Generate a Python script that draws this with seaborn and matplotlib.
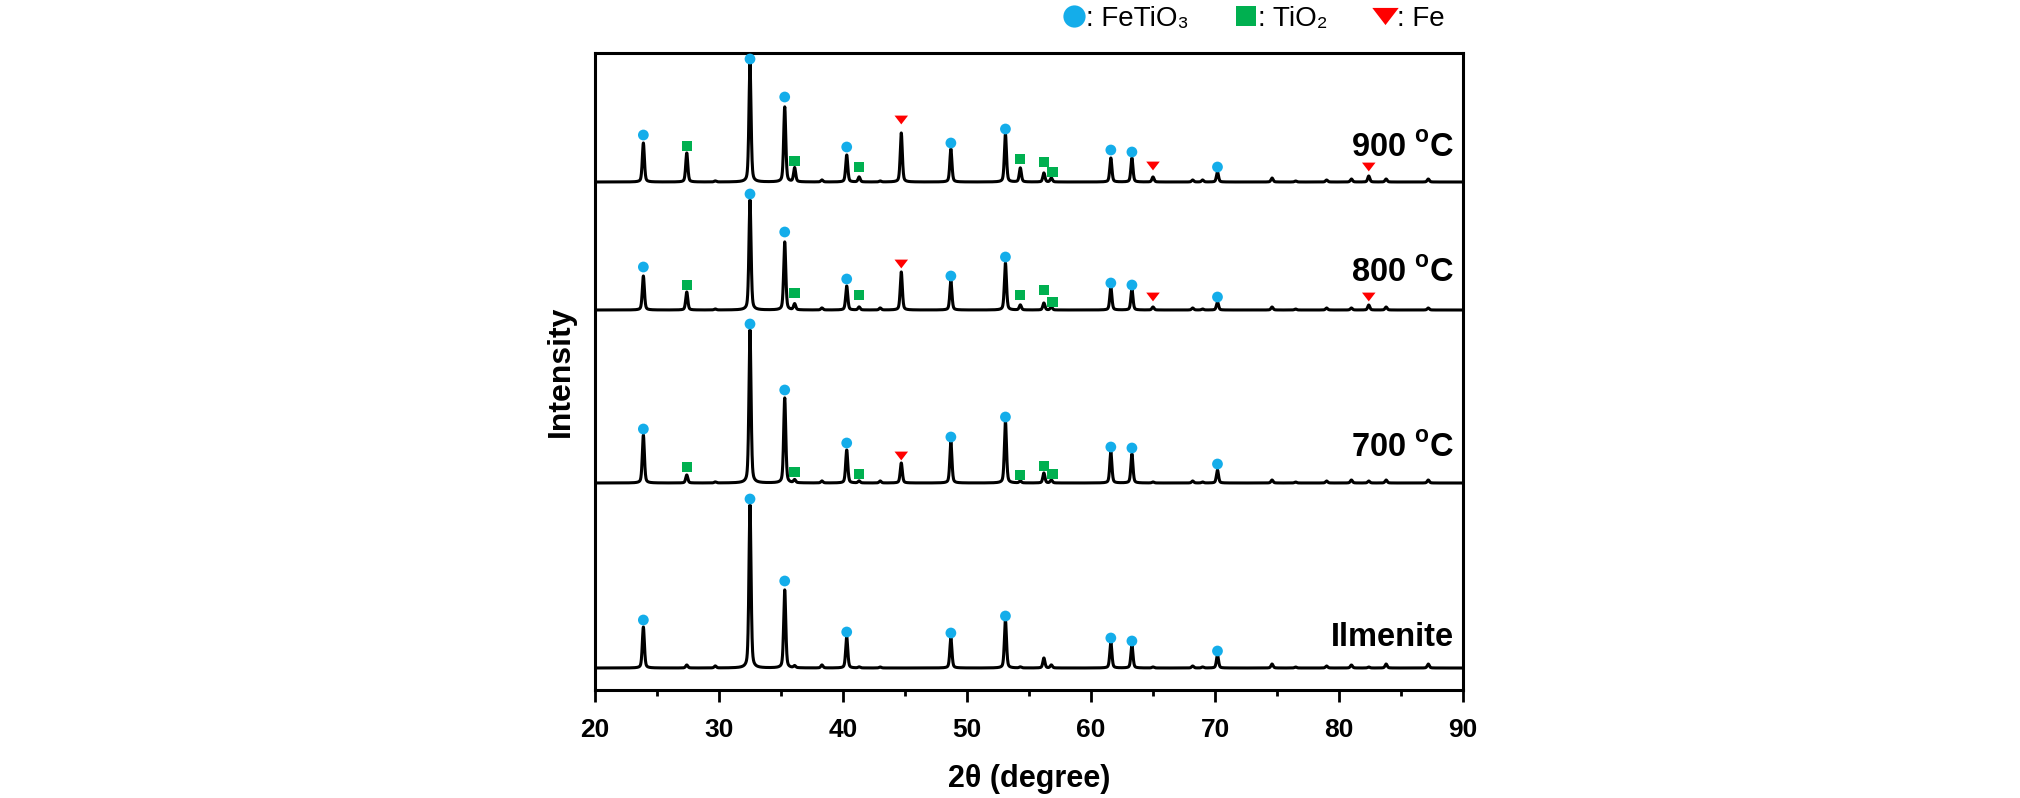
import numpy as np
import pandas as pd
import seaborn as sns
import matplotlib
matplotlib.use("Agg")
import matplotlib.pyplot as plt
from matplotlib.lines import Line2D
from matplotlib.path import Path

# ---------------- data (arbitrary intensity units) ----------------
samples = ["Ilmenite", "700 oC", "800 oC", "900 oC"]
sample_labels = ["Ilmenite", r"700 $^{\mathbf{o}}$C", r"800 $^{\mathbf{o}}$C", r"900 $^{\mathbf{o}}$C"]
offsets = [22, 207, 380, 508]
label_y = [44, 233, 408, 533]

peak_pos = [23.9, 27.4, 29.7, 32.5, 35.3, 36.1, 38.3, 40.3, 41.3, 43.0, 44.7, 48.7, 53.1,
            54.3, 56.2, 56.8, 61.6, 63.3, 65.0, 68.2, 69.0, 70.2, 74.6, 76.5, 79.0, 81.0,
            82.4, 83.8, 87.2]
h_ilmenite = [41, 3, 2, 163, 78, 2, 3, 31, 1, 1, 0, 30, 48,
              1, 10, 3, 26, 23, 1, 2, 1, 13, 4, 1, 2, 3,
              1, 4, 4]
h_700 = [48, 8, 1, 153, 85, 3, 2, 33, 2, 2, 20, 41, 62,
         2, 10, 3, 31, 29, 1, 2, 1, 13, 3, 1, 2, 3,
         2, 3, 3]
h_800 = [34, 18, 1, 110, 68, 6, 2, 24, 3, 2, 38, 29, 47,
         5, 7, 3, 23, 21, 3, 2, 1, 8, 3, 1, 2, 2,
         5, 3, 2]
h_900 = [39, 29, 1, 118, 75, 14, 2, 27, 5, 1, 49, 33, 48,
         14, 9, 4, 24, 24, 5, 2, 2, 10, 4, 1, 2, 3,
         6, 3, 3]
heights = [h_ilmenite, h_700, h_800, h_900]

# phase markers: position (2theta) and height above each pattern's baseline
fetio3_pos = [23.9, 32.5, 35.3, 40.3, 48.7, 53.1, 61.6, 63.3, 70.2]
fetio3_h = {
    "Ilmenite": [48, 169, 87, 36, 35, 52, 30, 27, 17],
    "700 oC":   [54, 159, 93, 40, 46, 66, 36, 35, 19],
    "800 oC":   [43, 116, 78, 31, 34, 53, 27, 25, 13],
    "900 oC":   [47, 123, 85, 35, 39, 53, 32, 30, 15],
}
tio2_pos = [27.4, 36.1, 41.3, 54.3, 56.2, 56.9]
tio2_h = {
    "700 oC": [16, 11, 9, 8, 17, 9],
    "800 oC": [25, 17, 15, 15, 20, 8],
    "900 oC": [36, 21, 15, 23, 20, 10],
}
fe_pos = {
    "700 oC": [44.7],
    "800 oC": [44.7, 65.0, 82.4],
    "900 oC": [44.7, 65.0, 82.4],
}
fe_h = {
    "700 oC": [27],
    "800 oC": [46, 13, 13],
    "900 oC": [62, 16, 15],
}

legend_labels = [": FeTiO\u2083", ": TiO\u2082", ": Fe"]
phase_colors = {"FeTiO3": "#14ADEA", "TiO2": "#00B050", "Fe": "#FF0000"}

# ---------------- build curves ----------------
two_theta = np.arange(20.0, 90.0001, 0.01)

def pattern(hs):
    y = np.zeros_like(two_theta)
    fwhm = 0.20
    for p, h in zip(peak_pos, hs):
        g = np.exp(-4 * np.log(2) * ((two_theta - p) / fwhm) ** 2)
        l = 1.0 / (1.0 + 4 * ((two_theta - p) / fwhm) ** 2)
        y += h * (0.6 * g + 0.4 * l)
    return y

rows = []
for s, off, hs in zip(samples, offsets, heights):
    rows.append(pd.DataFrame({"two_theta": two_theta,
                              "intensity": pattern(hs) + off,
                              "sample": s}))
df = pd.concat(rows, ignore_index=True)

mrows = []
for s, off in zip(samples, offsets):
    for p, h in zip(fetio3_pos, fetio3_h[s]):
        mrows.append((p, off + h, "FeTiO3"))
    if s in tio2_h:
        for p, h in zip(tio2_pos, tio2_h[s]):
            mrows.append((p, off + h, "TiO2"))
    if s in fe_pos:
        for p, h in zip(fe_pos[s], fe_h[s]):
            mrows.append((p, off + h, "Fe"))
mdf = pd.DataFrame(mrows, columns=["two_theta", "intensity", "phase"])

# ---------------- plot ----------------
sns.set_style("ticks")
plt.rcParams["font.family"] = ["Liberation Sans", "DejaVu Sans"]
plt.rcParams["mathtext.fontset"] = "custom"
plt.rcParams["mathtext.rm"] = "Liberation Sans"
plt.rcParams["mathtext.bf"] = "Liberation Sans:bold"
for k in ["text.color", "axes.labelcolor", "xtick.color", "ytick.color", "axes.edgecolor"]:
    plt.rcParams[k] = "black"

fig = plt.figure(figsize=(20.2, 7.98), dpi=100)
ax = fig.add_axes([595 / 2020, 1 - 690 / 798, (1463 - 595) / 2020, (690 - 53) / 798])

sns.lineplot(data=df, x="two_theta", y="intensity", units="sample", estimator=None,
             color="black", linewidth=2.2, ax=ax, legend=False)

tri = Path([(-1.0, 0.65), (1.0, 0.65), (0.0, -0.65), (-1.0, 0.65)],
           [Path.MOVETO, Path.LINETO, Path.LINETO, Path.CLOSEPOLY])
sns.scatterplot(data=mdf, x="two_theta", y="intensity", hue="phase", style="phase",
                palette=phase_colors,
                markers={"FeTiO3": "o", "TiO2": "s", "Fe": tri},
                size="phase", sizes={"FeTiO3": 60, "TiO2": 55, "Fe": 95},
                linewidth=0, ax=ax, legend=False, zorder=5)

for lab, yy in zip(sample_labels, label_y):
    ax.text(89.3, yy, lab, ha="right", va="baseline", fontsize=23.5, fontweight="bold",
            family="Liberation Sans", color="black")

ax.set_xlim(20, 90)
ax.set_ylim(0, 637)
ax.set_yticks([])
ax.set_xticks(np.arange(20, 91, 10))
ax.set_xticks(np.arange(25, 90, 10), minor=True)
ax.tick_params(axis="x", which="major", direction="out", length=8.5, width=2, pad=12,
               labelsize=19, top=False, colors="black")
ax.tick_params(axis="x", which="minor", direction="out", length=4.5, width=2, top=False)
for t in ax.get_xticklabels():
    t.set_fontweight("bold")
for sp in ax.spines.values():
    sp.set_linewidth(2.2)
    sp.set_color("black")

ax.set_xlabel("2\u03b8 (degree)", fontsize=22, fontweight="bold", labelpad=15.5)
ax.set_ylabel("Intensity", fontsize=23, fontweight="bold", labelpad=14)

# legend at top
handles = [
    Line2D([], [], linestyle="none", marker="o", markersize=16, color=phase_colors["FeTiO3"], markeredgewidth=0),
    Line2D([], [], linestyle="none", marker="s", markersize=15, color=phase_colors["TiO2"], markeredgewidth=0),
    Line2D([], [], linestyle="none", marker=tri, markersize=19, color=phase_colors["Fe"], markeredgewidth=0),
]
fig.legend(handles, legend_labels, loc="center", bbox_to_anchor=(1253 / 2020, 1 - 19 / 798),
           ncol=3, frameon=False, handletextpad=0.0, handlelength=0.9, columnspacing=1.6,
           prop={"family": ["Liberation Sans", "DejaVu Sans"], "size": 20})

fig.savefig("out.png", dpi=100)
